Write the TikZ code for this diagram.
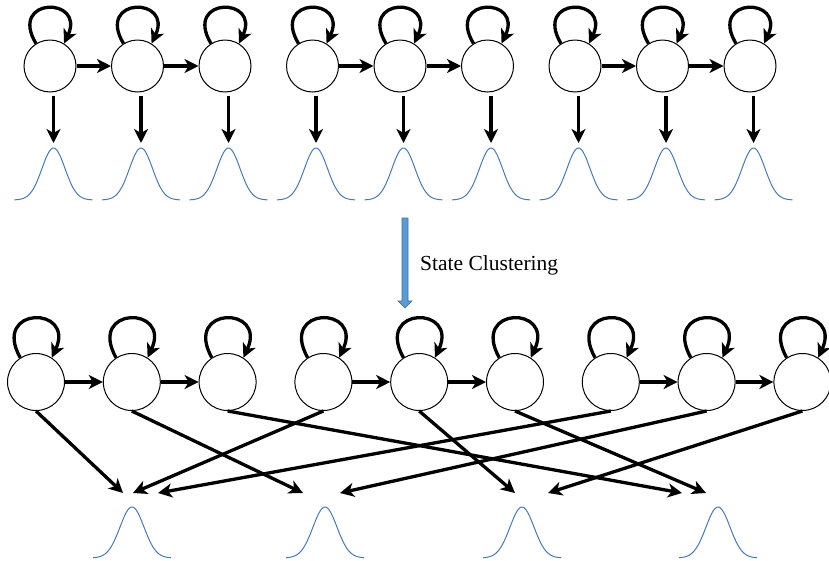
\documentclass[tikz,border=0pt]{standalone}
\usepackage{fontspec}
\setmainfont{Liberation Serif}
\usetikzlibrary{arrows.meta}

\definecolor{gaussblue}{RGB}{70,122,180}
\definecolor{blockfill}{RGB}{91,155,213}
\definecolor{blockedge}{RGB}{65,113,156}

\tikzset{
  stateT/.style={circle, draw, line width=1pt, minimum size=52pt, inner sep=0pt},
  stateB/.style={circle, draw, line width=1pt, minimum size=57pt, inner sep=0pt},
  arr/.style={line width=3.3pt, -{Stealth[length=14pt,width=14pt,inset=4pt]}},
  gauss/.style={gaussblue, line width=1pt},
}

\begin{document}
\begin{tikzpicture}[x=1pt, y=-1pt]
\useasboundingbox (0,0) rectangle (829,560);

% ---------- upper row: three left-to-right HMMs ----------
\foreach \i in {1,...,9} {
  \pgfmathsetmacro{\cx}{50+87.5*(\i-1)}
  \node[stateT] (t\i) at (\cx,66) {};
  \coordinate (tg\i) at (\cx+3.5,143);
  % self loop
  \draw[arr] (t\i.122) .. controls +(-28,-47) and +(22,-47) .. (t\i.58);
  % emission arrow
  \draw[arr] ([xshift=3.5pt,yshift=-3pt]t\i.south) -- (tg\i);
  % output density
  \draw[gauss] plot[domain=-39:39, samples=70, smooth]
    ({\cx+3.5+\x}, {200-52*exp(-(\x*\x)/(2*11.5*11.5))});
}
\foreach \a/\b in {1/2,2/3,4/5,5/6,7/8,8/9}
  \draw[arr] (t\a.east) -- (t\b.west);

% ---------- block arrow and label ----------
\fill[blockfill, draw=blockedge, line width=0.6pt]
  (402,218) -- (408,218) -- (408,301) -- (412,301) -- (405,308)
  -- (398,301) -- (402,301) -- cycle;
\node[anchor=base west, inner sep=0pt, font=\fontsize{21.5}{25}\selectfont]
  (label) at (420,270) {State Clustering};

% ---------- lower row: tied states sharing four densities ----------
\foreach \i in {1,...,9} {
  \pgfmathsetmacro{\cx}{36+95.8*(\i-1)}
  \node[stateB] (b\i) at (\cx,382) {};
  \draw[arr] (b\i.123) .. controls +(-29,-52) and +(24,-52) .. (b\i.57);
}
\foreach \a/\b in {1/2,2/3,4/5,5/6,7/8,8/9}
  \draw[arr] (b\a.east) -- (b\b.west);

\foreach \c in {132,325,522,718}
  \draw[gauss] plot[domain=-39:39, samples=70, smooth]
    ({\c+\x}, {558-51*exp(-(\x*\x)/(2*12*12))});

% arrow ends above the shared densities
\foreach \i/\x in {1/123,2/303,3/682,4/133,5/515,6/706,7/158,8/340,9/548}
  \coordinate (e\i) at (\x,493);
\foreach \i in {1,...,9}
  \draw[arr] (b\i.south) -- (e\i);
\end{tikzpicture}
\end{document}
